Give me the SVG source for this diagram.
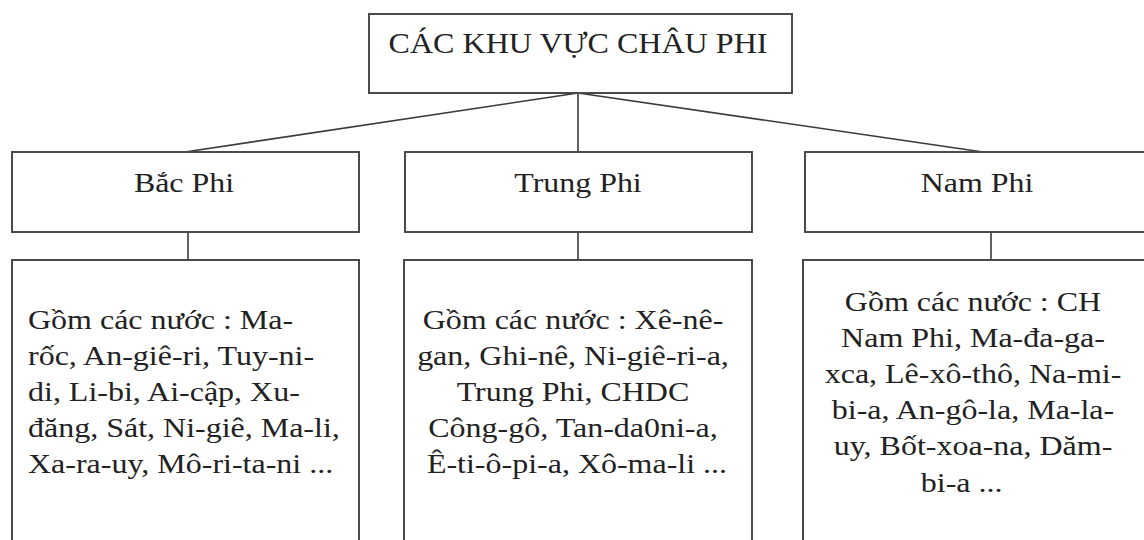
<svg xmlns="http://www.w3.org/2000/svg" width="1144" height="540" viewBox="0 0 1144 540">
<style>
.box{fill:#fff;stroke:#4a4a4a;stroke-width:2}
.con{stroke:#3a3a3a;stroke-width:1.6;fill:none}
.t{font-family:"Liberation Serif","Times New Roman",serif;fill:#222}
.title{font-size:30px}
.lab{font-size:28px}
.body{font-size:27px}
</style>
<rect width="1144" height="540" fill="#fff"/>
<g id="connectors">
<line class="con" x1="578" y1="93" x2="185" y2="152"/>
<line class="con" x1="578" y1="93" x2="578" y2="152"/>
<line class="con" x1="578" y1="93" x2="983" y2="152"/>
<line class="con" x1="188" y1="232" x2="188" y2="260"/>
<line class="con" x1="578" y1="232" x2="578" y2="260"/>
<line class="con" x1="991" y1="232" x2="991" y2="260"/>
</g>
<g id="root">
<rect class="box" x="369" y="14" width="423" height="79"/>
<text class="t title" text-anchor="middle" transform="translate(578,53) scale(1.07,1)">CÁC KHU VỰC CHÂU PHI</text>
</g>
<g id="bac-phi">
<rect class="box" x="12" y="152" width="347" height="80"/>
<text class="t lab" text-anchor="middle" transform="translate(184,192) scale(1.14,1)">Bắc Phi</text>
</g>
<g id="trung-phi">
<rect class="box" x="405" y="152" width="347" height="80"/>
<text class="t lab" text-anchor="middle" transform="translate(578,192) scale(1.14,1)">Trung Phi</text>
</g>
<g id="nam-phi">
<rect class="box" x="805" y="152" width="345" height="80"/>
<text class="t lab" text-anchor="middle" transform="translate(977,192) scale(1.14,1)">Nam Phi</text>
</g>
<g id="bac-phi-list">
<rect class="box" x="12" y="260" width="347" height="290"/>
<text class="t body" transform="translate(28,329) scale(1.185,1)">
<tspan x="0" y="0">Gồm các nước : Ma-</tspan>
<tspan x="0" y="36">rốc, An-giê-ri, Tuy-ni-</tspan>
<tspan x="0" y="72">di, Li-bi, Ai-cập, Xu-</tspan>
<tspan x="0" y="108">đăng, Sát, Ni-giê, Ma-li,</tspan>
<tspan x="0" y="144">Xa-ra-uy, Mô-ri-ta-ni ...</tspan>
</text>
</g>
<g id="trung-phi-list">
<rect class="box" x="404" y="260" width="348" height="290"/>
<text class="t body" text-anchor="middle" transform="translate(577,329) scale(1.185,1)">
<tspan x="0" y="0">Gồm các nước : Xê-nê-</tspan>
<tspan x="0" y="36">gan, Ghi-nê, Ni-giê-ri-a,</tspan>
<tspan x="0" y="72">Trung Phi, CHDC</tspan>
<tspan x="0" y="108">Công-gô, Tan-da0ni-a,</tspan>
<tspan x="0" y="144">Ê-ti-ô-pi-a, Xô-ma-li ...</tspan>
</text>
</g>
<g id="nam-phi-list">
<rect class="box" x="803" y="260" width="347" height="290"/>
<text class="t body" text-anchor="middle" transform="translate(977,311) scale(1.185,1)">
<tspan x="0" y="0">Gồm các nước : CH</tspan>
<tspan x="0" y="36">Nam Phi, Ma-đa-ga-</tspan>
<tspan x="0" y="72">xca, Lê-xô-thô, Na-mi-</tspan>
<tspan x="0" y="108">bi-a, An-gô-la, Ma-la-</tspan>
<tspan x="0" y="144">uy, Bốt-xoa-na, Dăm-</tspan>
<tspan x="-13" y="181">bi-a ...</tspan>
</text>
</g>
</svg>
